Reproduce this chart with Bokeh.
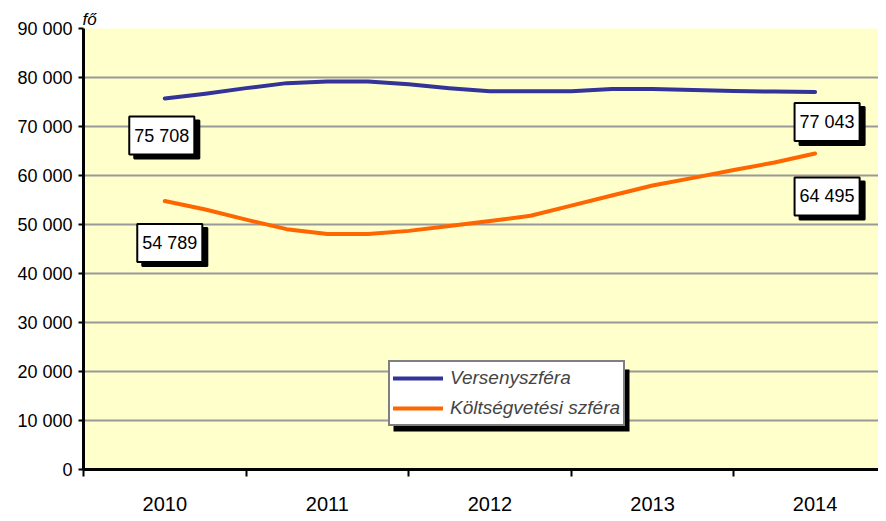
from bokeh.plotting import figure
from bokeh.models import Range1d, FixedTicker, BasicTickFormatter, Label, BoxAnnotation
from bokeh.embed import file_html
from bokeh.resources import INLINE

# ---- data ----
years = [2010, 2011, 2012, 2013, 2014]
quarters = [2010.0, 2010.25, 2010.5, 2010.75, 2011.0, 2011.25, 2011.5, 2011.75,
            2012.0, 2012.25, 2012.5, 2012.75, 2013.0, 2013.25, 2013.5, 2013.75, 2014.0]
verseny = [75708, 76700, 77830, 78850, 79200, 79200, 78600, 77800, 77180,
           77180, 77180, 77670, 77670, 77450, 77250, 77120, 77043]
koltseg = [54789, 53050, 51000, 49050, 48060, 48060, 48700, 49700, 50720,
           51780, 53850, 55920, 57950, 59520, 61110, 62660, 64495]
series_names = ["Versenyszféra", "Költségvetési szféra"]
y_ticks = [0, 10000, 20000, 30000, 40000, 50000, 60000, 70000, 80000, 90000]
y_tick_labels = ["0", "10 000", "20 000", "30 000", "40 000", "50 000",
                 "60 000", "70 000", "80 000", "90 000"]
label_years = [2010, 2010, 2014, 2014]
label_values = [75708, 54789, 77043, 64495]
unit_label = "fő"

FONT = "Liberation Sans"
BLUE = "#333399"
ORANGE = "#FF6600"

p = figure(width=878, height=513, output_backend="svg", toolbar_location=None,
           x_range=Range1d(2009.5, 2014.39), y_range=Range1d(0, 90000),
           min_border_left=83, min_border_right=0, min_border_top=28, min_border_bottom=40)
p.background_fill_color = "#FFFFCC"
p.border_fill_color = "white"
p.outline_line_color = None

# unit label above the y axis (as a left-aligned title)
p.title.text = unit_label
p.title.text_font = FONT
p.title.text_font_style = "italic"
p.title.text_font_size = "17px"
p.title.text_color = "black"
p.title.align = "left"
p.title.offset = -1
p.title.standoff = 0

p.xgrid.visible = False
p.ygrid.grid_line_color = "#999999"
p.ygrid.grid_line_width = 2

# x axis: labels at category centers, ticks at boundaries
xa = p.xaxis[0]
xa.ticker = FixedTicker(ticks=years, minor_ticks=[y - 0.5 for y in years] + [years[-1] + 0.5])
xa.formatter = BasicTickFormatter(use_scientific=False)
xa.major_tick_out = 0
xa.major_tick_in = 0
xa.minor_tick_out = 7
xa.minor_tick_in = 0
xa.minor_tick_line_color = "black"
xa.minor_tick_line_width = 2
xa.axis_line_color = "black"
xa.axis_line_width = 3
xa.major_label_text_font = FONT
xa.major_label_text_font_size = "20px"
xa.major_label_text_color = "black"
xa.major_label_standoff = 20

ya = p.yaxis[0]
ya.ticker = FixedTicker(ticks=y_ticks)
ya.major_label_overrides = {t: l for t, l in zip(y_ticks, y_tick_labels)}
ya.major_tick_out = 5
ya.major_tick_in = 0
ya.major_tick_line_color = "black"
ya.major_tick_line_width = 2
ya.minor_tick_line_color = None
ya.axis_line_color = "black"
ya.axis_line_width = 3
ya.major_label_text_font = FONT
ya.major_label_text_font_size = "18px"
ya.major_label_text_color = "black"
ya.major_label_standoff = 6

# legend shadow (screen units relative to the frame's bottom-left)
p.add_layout(BoxAnnotation(left=310, right=546, bottom=38, top=100,
                           left_units="screen", right_units="screen",
                           bottom_units="screen", top_units="screen",
                           fill_color="black", fill_alpha=1, line_color=None, level="overlay"))

p.line(quarters, verseny, line_color=BLUE, line_width=4, line_join="round",
       line_cap="round", legend_label=series_names[0])
p.line(quarters, koltseg, line_color=ORANGE, line_width=4, line_join="round",
       line_cap="round", legend_label=series_names[1])

leg = p.legend[0]
leg.location = (305, 43)
leg.label_text_font = FONT
leg.label_text_font_style = "italic"
leg.label_text_font_size = "19px"
leg.glyph_width = 50
leg.glyph_height = 26
leg.label_height = 26
leg.label_standoff = 7
leg.spacing = 4
leg.padding = 3
leg.margin = 0
leg.border_line_color = "black"
leg.border_line_width = 2
leg.background_fill_color = "white"
leg.background_fill_alpha = 1

# data labels with shadow
offsets = [(-3, -37), (5, -42), (12, -30), (12, -43)]
for (xv, yv, (dx, dy)) in zip(label_years, label_values, offsets):
    txt = f"{yv:,}".replace(",", " ")
    common = dict(x=xv, y=yv, text=txt, text_align="center", text_baseline="middle",
                  text_font=FONT, text_font_size="18px",
                  padding=dict(left=5, right=5, top=9, bottom=9))
    p.add_layout(Label(x_offset=dx + 5, y_offset=dy - 4, text_color="black",
                       background_fill_color="black", border_line_color="black",
                       border_line_width=2, **common))
    p.add_layout(Label(x_offset=dx, y_offset=dy, text_color="black",
                       background_fill_color="white", border_line_color="black",
                       border_line_width=2, **common))

open("out.html", "w").write(file_html(p, INLINE))
